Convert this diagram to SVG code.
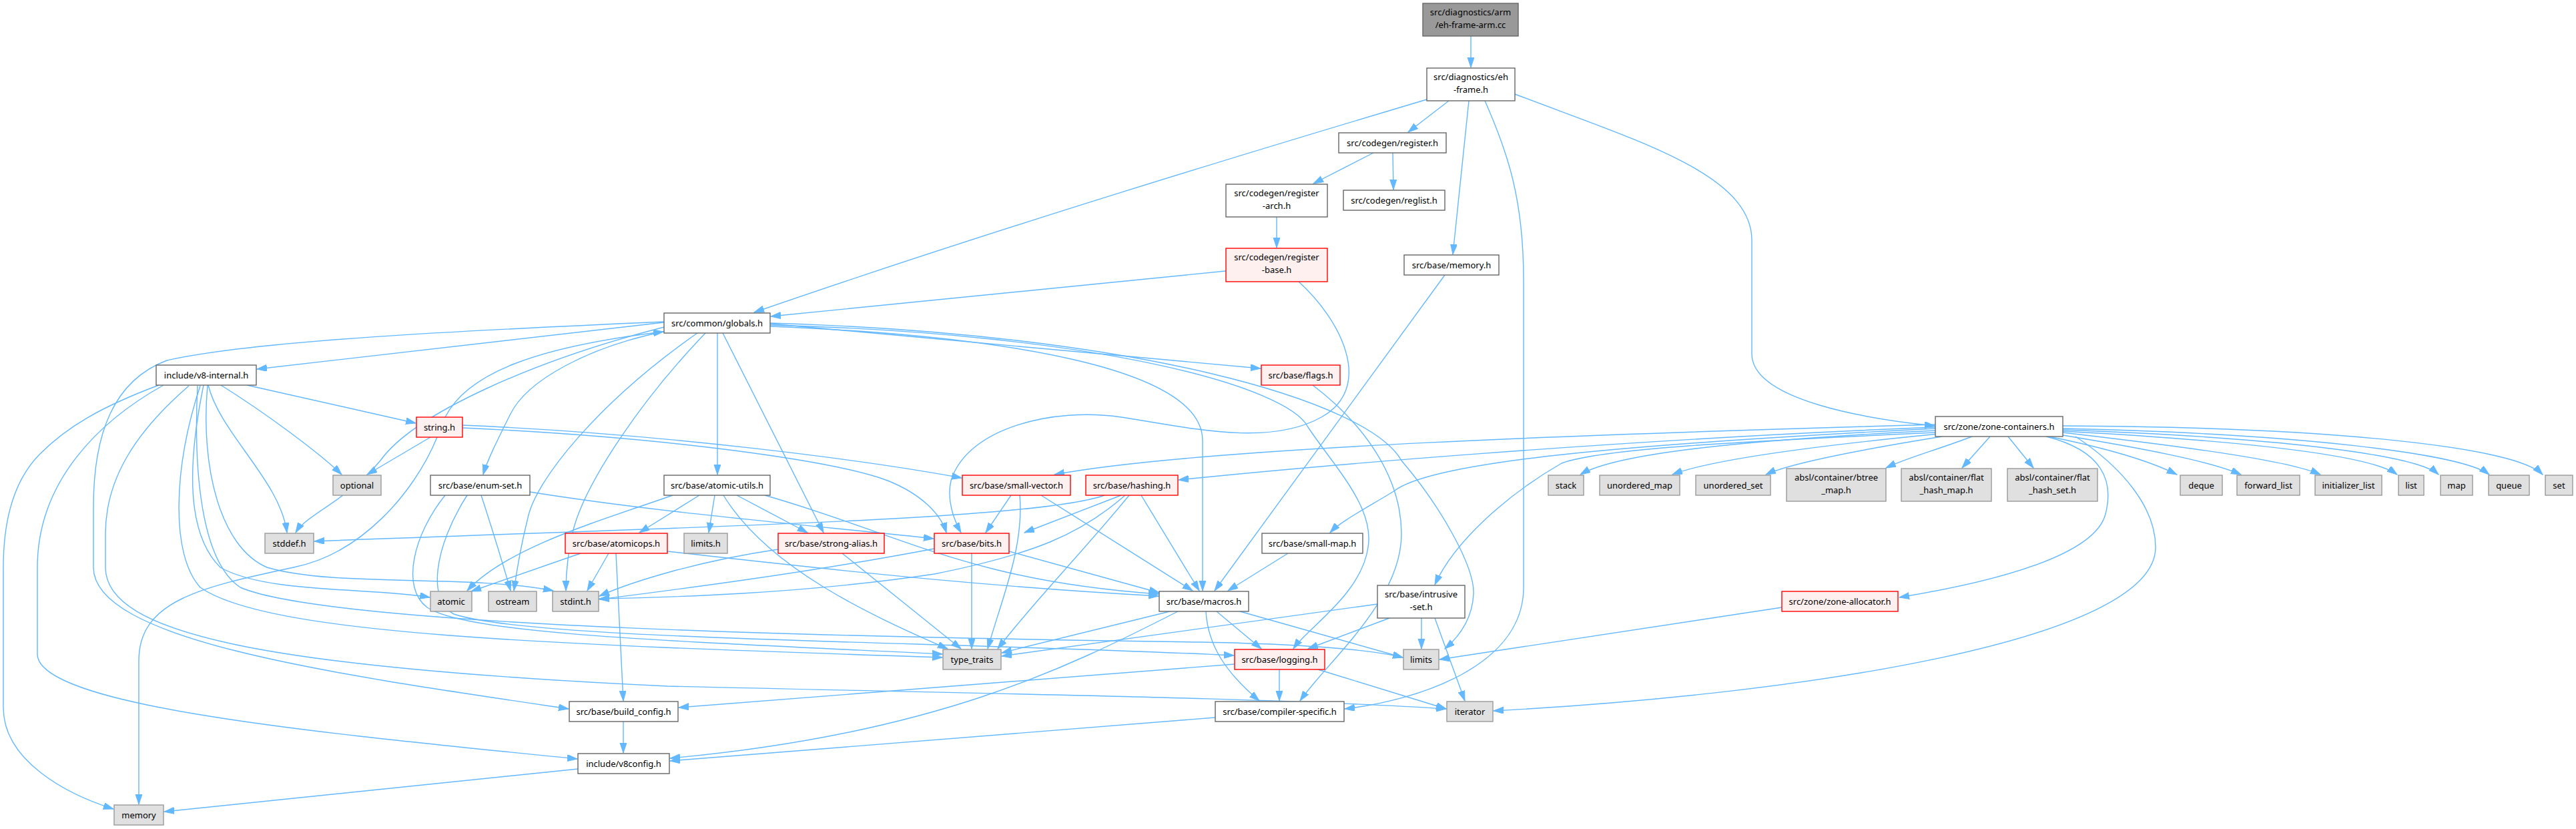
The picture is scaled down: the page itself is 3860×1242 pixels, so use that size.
<svg xmlns="http://www.w3.org/2000/svg" width="3860" height="1242" viewBox="0 0 3860 1242">
<style>
.e path{fill:none;stroke:#63B8FF;stroke-width:1.4;marker-end:url(#ah)}
rect{stroke-width:1.4}
.w rect{fill:#FFFFFF;stroke:#666666}
.r rect{fill:#FFF0F0;stroke:#FF0000}
.g rect{fill:#E0E0E0;stroke:#999999}
.root rect{fill:#999999;stroke:#666666}
text{font-family:"Noto Sans","Liberation Sans",sans-serif;font-size:13px;fill:#000000;text-anchor:middle}
</style>
<defs>
<marker id="ah" markerUnits="userSpaceOnUse" markerWidth="16" markerHeight="11" refX="15" refY="5" orient="auto">
<path d="M0,0 L15,5 L0,10 Z" fill="#63B8FF" stroke="#63B8FF" stroke-width="1"/>
</marker>
</defs>
<rect width="3860" height="1242" fill="#FFFFFF" style="stroke:none"/>
<g id="edges" class="e">
<path d="M2204,54 L2204,101"/>
<path d="M2138,149 C1900,220 1500,340 1130,468"/>
<path d="M2171,151 L2110,198"/>
<path d="M2201,151 L2177,381"/>
<path d="M2225,151 C2260,230 2283,300 2283,420 L2283,880 C2283,1000 2120,1050 2015,1062"/>
<path d="M2270,141 C2450,210 2625,260 2625,360 L2625,530 C2625,600 2800,628 2899,638"/>
<path d="M2058,229 L1968,275"/>
<path d="M2087,229 L2088,284"/>
<path d="M1913,325 L1913,371"/>
<path d="M1837,406 L1155,474"/>
<path d="M1946,422 C2010,480 2060,580 1980,625 C1900,670 1780,640 1680,625 C1580,610 1450,640 1425,720 C1418,750 1430,780 1440,798"/>
<path d="M2165,412 L1820,885"/>
<path d="M995,483 L385,553"/>
<path d="M995,490 C800,540 620,620 570,690 C520,750 460,770 443,798"/>
<path d="M998,496 C880,520 790,570 765,620 C745,660 730,690 724,711"/>
<path d="M1075,499 L1075,711"/>
<path d="M1083,499 L1234,798"/>
<path d="M1154,485 L1889,552"/>
<path d="M1154,489 C1550,505 1802,560 1802,660 L1802,885"/>
<path d="M1154,487 C1650,500 1930,580 1960,640 C2000,700 2060,760 2050,820 C2040,890 1960,940 1938,972"/>
<path d="M1967,577 C2050,640 2100,720 2100,800 C2100,900 1990,990 1948,1050"/>
<path d="M1154,484 C1700,500 2050,600 2100,690 C2160,760 2210,850 2208,890 C2206,930 2185,955 2165,972"/>
<path d="M995,482 C700,495 380,510 250,540 C170,570 140,650 140,760 L140,850 C140,960 500,1010 852,1062"/>
<path d="M1045,499 C900,600 800,720 790,780 C780,820 775,850 770,885"/>
<path d="M1057,499 C960,600 880,720 860,790 C850,830 848,860 848,885"/>
<path d="M667,625 C700,560 800,520 994,497"/>
<path d="M645,655 L550,711"/>
<path d="M655,655 C620,740 540,830 440,850 C300,880 208,900 208,990 L208,1205"/>
<path d="M693,637 C1000,650 1300,690 1441,716"/>
<path d="M693,641 C1000,655 1250,690 1330,720 C1380,740 1410,770 1418,798"/>
<path d="M370,577 L623,634"/>
<path d="M331,577 C400,620 480,680 512,711"/>
<path d="M312,577 C330,650 420,720 430,798"/>
<path d="M305,577 C280,700 280,800 330,850 C400,890 560,880 644,895"/>
<path d="M311,577 C300,700 330,820 400,850 C500,880 700,860 829,885"/>
<path d="M238,577 C150,610 100,640 60,680 C20,720 5,780 5,850 L5,1060 C5,1140 100,1190 170,1212"/>
<path d="M245,577 C150,630 56,720 56,850 L56,980 C56,1060 500,1100 865,1137"/>
<path d="M283,578 C200,650 158,720 158,800 L158,850 C158,950 400,1000 1000,1028 C1500,1040 1900,1045 2167,1062"/>
<path d="M300,578 C260,700 255,830 300,880 C400,950 800,965 1412,985"/>
<path d="M296,578 C290,700 300,840 360,880 C500,940 1300,955 1800,962 C1950,965 2050,972 2102,985"/>
<path d="M721,742 C740,800 755,850 765,885"/>
<path d="M667,742 C620,800 600,880 640,910 C700,950 1000,960 1412,980"/>
<path d="M700,742 C650,820 640,900 680,920 C800,960 1400,960 1849,982"/>
<path d="M794,737 C1000,770 1250,790 1399,807"/>
<path d="M1048,742 L958,798"/>
<path d="M1071,742 L1062,798"/>
<path d="M1104,742 L1210,798"/>
<path d="M1008,742 C900,780 760,820 700,885"/>
<path d="M1084,742 C1150,850 1300,920 1420,972"/>
<path d="M1146,742 C1350,800 1450,870 1736,890"/>
<path d="M870,829 L706,886"/>
<path d="M912,829 L880,885"/>
<path d="M923,829 L934,1050"/>
<path d="M1000,826 C1300,860 1500,880 1736,893"/>
<path d="M1262,829 L1440,972"/>
<path d="M1166,823 C1050,840 950,870 898,893"/>
<path d="M1456,829 L1456,972"/>
<path d="M1512,826 L1737,888"/>
<path d="M1400,822 C1200,860 1000,885 898,898"/>
<path d="M1515,742 L1477,798"/>
<path d="M1560,742 L1787,885"/>
<path d="M1528,742 C1535,820 1500,900 1480,972"/>
<path d="M1680,742 L1535,798"/>
<path d="M1710,742 L1797,885"/>
<path d="M1692,742 C1620,830 1550,900 1495,972"/>
<path d="M1655,742 C1550,780 1000,790 471,811"/>
<path d="M1686,742 C1620,800 1550,830 1400,860 C1200,890 1000,895 898,897"/>
<path d="M1930,829 L1840,885"/>
<path d="M1753,916 L1501,978"/>
<path d="M1765,916 C1600,1000 1400,1100 1004,1136"/>
<path d="M1823,916 L1890,972"/>
<path d="M1807,916 C1810,970 1840,1010 1887,1050"/>
<path d="M1858,916 L2102,985"/>
<path d="M2064,905 L1501,983"/>
<path d="M2082,926 L1960,972"/>
<path d="M2130,926 L2130,972"/>
<path d="M2150,926 L2195,1050"/>
<path d="M2670,910 L2157,988"/>
<path d="M1917,1003 L1917,1050"/>
<path d="M1850,995 L1017,1060"/>
<path d="M1975,1003 L2167,1062"/>
<path d="M1821,1075 L1004,1140"/>
<path d="M934,1081 L934,1128"/>
<path d="M866,1152 L246,1216"/>
<path d="M2900,636 C2400,650 1800,670 1580,711"/>
<path d="M2900,640 C2400,660 1950,700 1766,719"/>
<path d="M2900,642 C2450,665 2150,690 2090,735 C2050,760 2010,780 1993,798"/>
<path d="M2900,648 C2600,662 2400,672 2340,694 C2260,740 2180,810 2150,876"/>
<path d="M2900,645 C2600,660 2420,680 2368,711"/>
<path d="M2905,650 C2700,670 2560,690 2506,711"/>
<path d="M2910,654 C2780,675 2680,695 2646,711"/>
<path d="M2955,654 C2900,675 2860,685 2826,701"/>
<path d="M2982,654 L2940,701"/>
<path d="M3009,654 L3047,701"/>
<path d="M3070,654 C3150,670 3220,690 3262,711"/>
<path d="M3091,652 C3200,670 3310,690 3358,711"/>
<path d="M3091,648 C3280,670 3430,690 3477,711"/>
<path d="M3091,646 C3350,660 3550,680 3592,711"/>
<path d="M3091,644 C3400,655 3620,680 3654,711"/>
<path d="M3091,642 C3450,650 3690,680 3730,711"/>
<path d="M3091,638 C3500,640 3770,670 3810,711"/>
<path d="M3066,654 C3150,675 3168,720 3155,770 C3140,830 3000,870 2846,895"/>
<path d="M3110,654 C3180,700 3230,760 3230,820 C3230,960 2700,1040 2238,1065"/>
</g>
<g id="n_root" class="root"><rect x="2132" y="5" width="143" height="49"/><text x="2203.5" y="23">src/diagnostics/arm</text><text x="2203.5" y="42">/eh-frame-arm.cc</text></g>
<g id="n_ehframe" class="w"><rect x="2138" y="102" width="132" height="49"/><text x="2204" y="120">src/diagnostics/eh</text><text x="2204" y="139">-frame.h</text></g>
<g id="n_register" class="w"><rect x="2006" y="199" width="161" height="30"/><text x="2086.5" y="218.5">src/codegen/register.h</text></g>
<g id="n_regarch" class="w"><rect x="1837" y="276" width="152" height="49"/><text x="1913" y="294">src/codegen/register</text><text x="1913" y="313">-arch.h</text></g>
<g id="n_reglist" class="w"><rect x="2013" y="285" width="152" height="30"/><text x="2089" y="304.5">src/codegen/reglist.h</text></g>
<g id="n_regbase" class="r"><rect x="1837" y="372" width="152" height="50"/><text x="1913" y="390">src/codegen/register</text><text x="1913" y="409">-base.h</text></g>
<g id="n_memoryh" class="w"><rect x="2104" y="382" width="142" height="30"/><text x="2175" y="401.5">src/base/memory.h</text></g>
<g id="n_globals" class="w"><rect x="995" y="469" width="159" height="30"/><text x="1074.5" y="488.5">src/common/globals.h</text></g>
<g id="n_v8int" class="w"><rect x="234" y="547" width="150" height="30"/><text x="309" y="566.5">include/v8-internal.h</text></g>
<g id="n_flags" class="r"><rect x="1890" y="547" width="118" height="30"/><text x="1949" y="566.5">src/base/flags.h</text></g>
<g id="n_zonecont" class="w"><rect x="2900" y="624" width="191" height="30"/><text x="2995.5" y="643.5">src/zone/zone-containers.h</text></g>
<g id="n_string" class="r"><rect x="624" y="625" width="69" height="30"/><text x="658.5" y="644.5">string.h</text></g>
<g id="n_optional" class="g"><rect x="499" y="712" width="72" height="30"/><text x="535" y="731.5">optional</text></g>
<g id="n_enumset" class="w"><rect x="645" y="712" width="149" height="30"/><text x="719.5" y="731.5">src/base/enum-set.h</text></g>
<g id="n_atomicutils" class="w"><rect x="995" y="712" width="159" height="30"/><text x="1074.5" y="731.5">src/base/atomic-utils.h</text></g>
<g id="n_smallvec" class="r"><rect x="1442" y="712" width="162" height="30"/><text x="1523" y="731.5">src/base/small-vector.h</text></g>
<g id="n_hashing" class="r"><rect x="1627" y="712" width="138" height="30"/><text x="1696" y="731.5">src/base/hashing.h</text></g>
<g id="n_stack" class="g"><rect x="2320" y="712" width="53" height="30"/><text x="2346.5" y="731.5">stack</text></g>
<g id="n_umap" class="g"><rect x="2397" y="712" width="120" height="30"/><text x="2457" y="731.5">unordered_map</text></g>
<g id="n_uset" class="g"><rect x="2541" y="712" width="112" height="30"/><text x="2597" y="731.5">unordered_set</text></g>
<g id="n_btree" class="g"><rect x="2677" y="702" width="149" height="49"/><text x="2751.5" y="720">absl/container/btree</text><text x="2751.5" y="739">_map.h</text></g>
<g id="n_fhm" class="g"><rect x="2849" y="702" width="135" height="49"/><text x="2916.5" y="720">absl/container/flat</text><text x="2916.5" y="739">_hash_map.h</text></g>
<g id="n_fhs" class="g"><rect x="3008" y="702" width="135" height="49"/><text x="3075.5" y="720">absl/container/flat</text><text x="3075.5" y="739">_hash_set.h</text></g>
<g id="n_deque" class="g"><rect x="3267" y="712" width="63" height="30"/><text x="3298.5" y="731.5">deque</text></g>
<g id="n_forward_list" class="g"><rect x="3352" y="712" width="94" height="30"/><text x="3399" y="731.5">forward_list</text></g>
<g id="n_initializer_list" class="g"><rect x="3469" y="712" width="100" height="30"/><text x="3519" y="731.5">initializer_list</text></g>
<g id="n_list" class="g"><rect x="3594" y="712" width="38" height="30"/><text x="3613" y="731.5">list</text></g>
<g id="n_map" class="g"><rect x="3657" y="712" width="48" height="30"/><text x="3681" y="731.5">map</text></g>
<g id="n_queue" class="g"><rect x="3729" y="712" width="61" height="30"/><text x="3759.5" y="731.5">queue</text></g>
<g id="n_set" class="g"><rect x="3814" y="712" width="41" height="30"/><text x="3834.5" y="731.5">set</text></g>
<g id="n_stddef" class="g"><rect x="397" y="799" width="73" height="30"/><text x="433.5" y="818.5">stddef.h</text></g>
<g id="n_atomicops" class="r"><rect x="847" y="799" width="153" height="30"/><text x="923.5" y="818.5">src/base/atomicops.h</text></g>
<g id="n_limitsh" class="g"><rect x="1025" y="799" width="65" height="30"/><text x="1057.5" y="818.5">limits.h</text></g>
<g id="n_strongalias" class="r"><rect x="1166" y="799" width="159" height="30"/><text x="1245.5" y="818.5">src/base/strong-alias.h</text></g>
<g id="n_bits" class="r"><rect x="1400" y="799" width="112" height="30"/><text x="1456" y="818.5">src/base/bits.h</text></g>
<g id="n_smallmap" class="w"><rect x="1891" y="799" width="151" height="30"/><text x="1966.5" y="818.5">src/base/small-map.h</text></g>
<g id="n_atomic" class="g"><rect x="645" y="886" width="62" height="30"/><text x="676" y="905.5">atomic</text></g>
<g id="n_ostream" class="g"><rect x="732" y="886" width="72" height="30"/><text x="768" y="905.5">ostream</text></g>
<g id="n_stdint" class="g"><rect x="828" y="886" width="69" height="30"/><text x="862.5" y="905.5">stdint.h</text></g>
<g id="n_macros" class="w"><rect x="1737" y="886" width="134" height="30"/><text x="1804" y="905.5">src/base/macros.h</text></g>
<g id="n_intrusive" class="w"><rect x="2064" y="877" width="131" height="49"/><text x="2129.5" y="895">src/base/intrusive</text><text x="2129.5" y="914">-set.h</text></g>
<g id="n_zonealloc" class="r"><rect x="2670" y="886" width="174" height="30"/><text x="2757" y="905.5">src/zone/zone-allocator.h</text></g>
<g id="n_typetraits" class="g"><rect x="1413" y="973" width="87" height="30"/><text x="1456.5" y="992.5">type_traits</text></g>
<g id="n_logging" class="r"><rect x="1850" y="973" width="135" height="30"/><text x="1917.5" y="992.5">src/base/logging.h</text></g>
<g id="n_limits" class="g"><rect x="2103" y="973" width="53" height="30"/><text x="2129.5" y="992.5">limits</text></g>
<g id="n_buildconfig" class="w"><rect x="853" y="1051" width="163" height="30"/><text x="934.5" y="1070.5">src/base/build_config.h</text></g>
<g id="n_compiler" class="w"><rect x="1821" y="1051" width="193" height="30"/><text x="1917.5" y="1070.5">src/base/compiler-specific.h</text></g>
<g id="n_iterator" class="g"><rect x="2168" y="1051" width="69" height="30"/><text x="2202.5" y="1070.5">iterator</text></g>
<g id="n_v8config" class="w"><rect x="866" y="1129" width="137" height="30"/><text x="934.5" y="1148.5">include/v8config.h</text></g>
<g id="n_memory" class="g"><rect x="171" y="1206" width="74" height="30"/><text x="208" y="1225.5">memory</text></g>
</svg>
